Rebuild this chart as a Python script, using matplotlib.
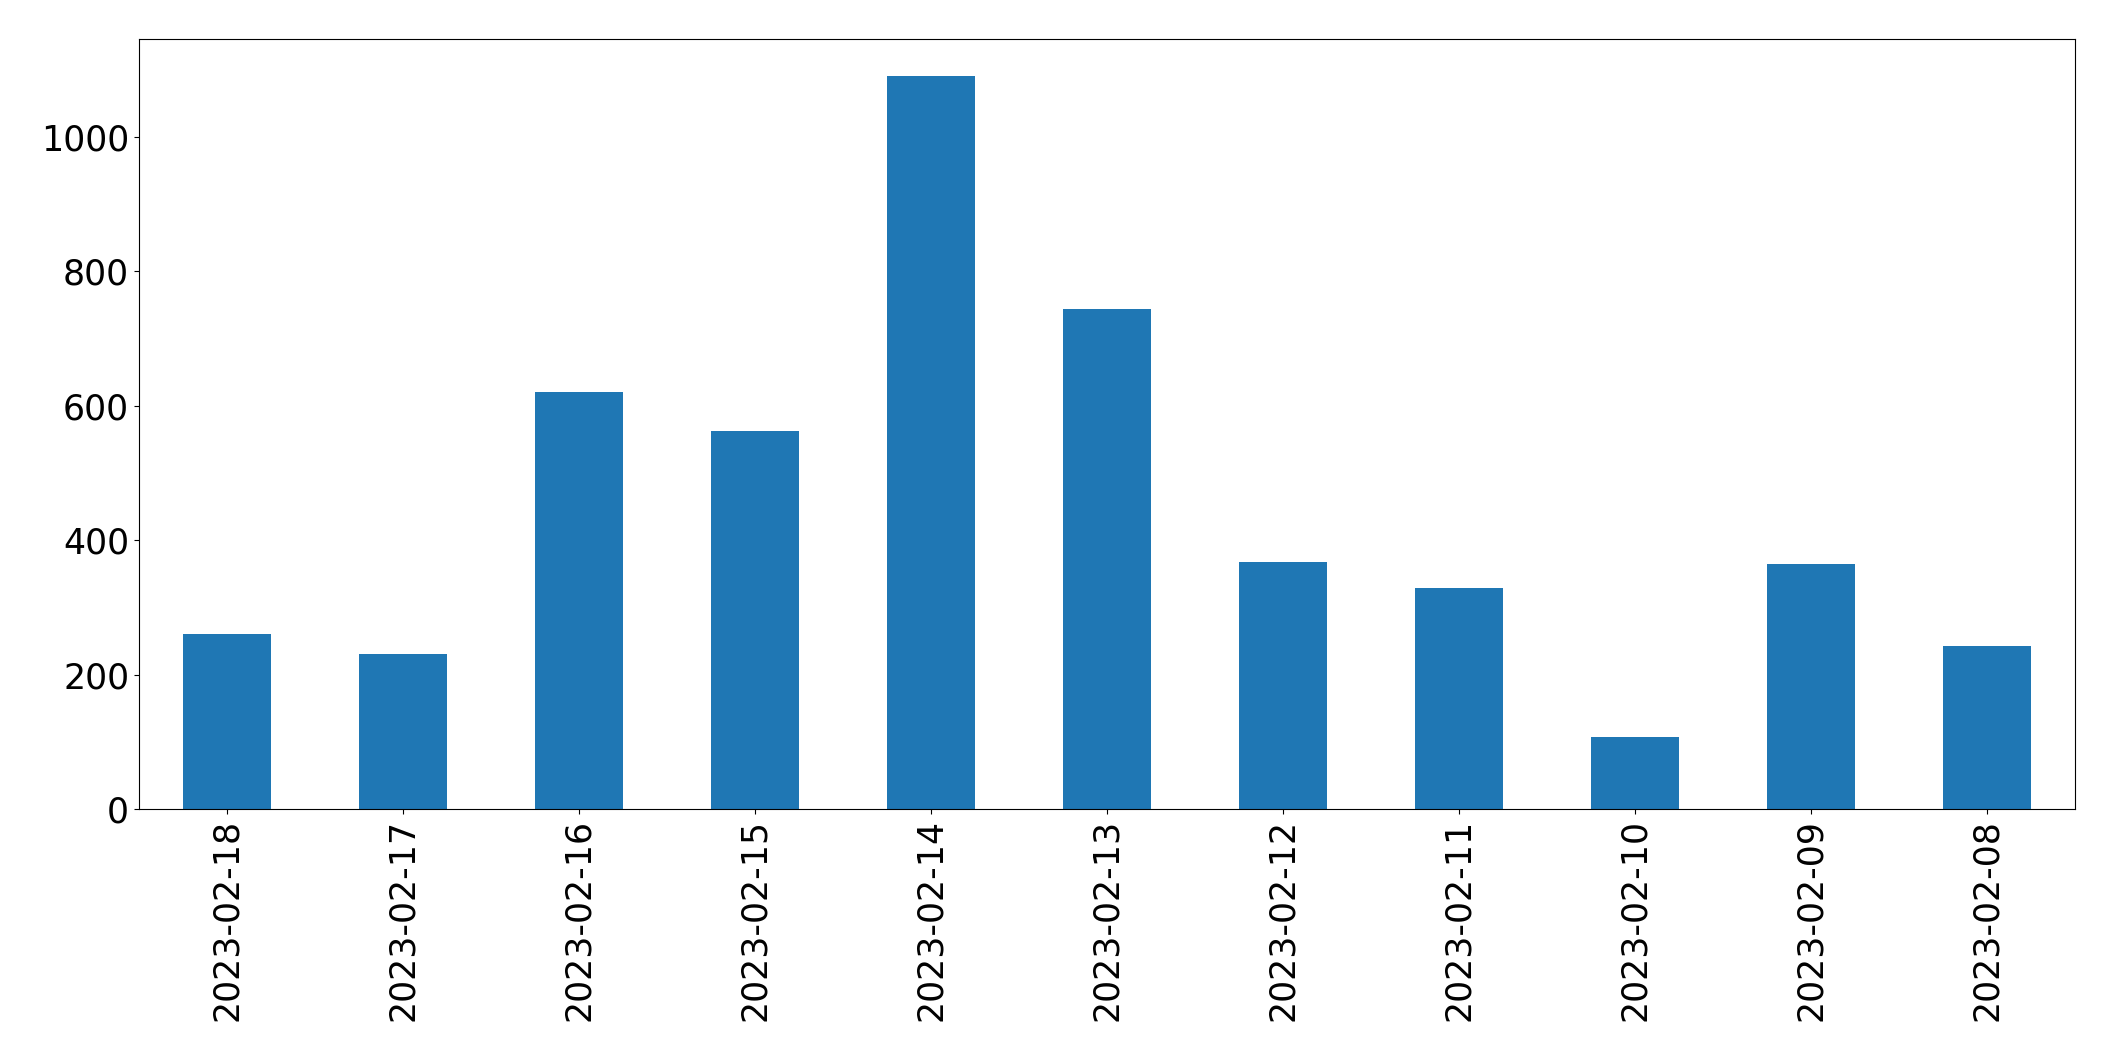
import pandas as pd
import matplotlib.pyplot as plt

# daily counts, newest first (as in the original plot)
dates = ['2023-02-18', '2023-02-17', '2023-02-16', '2023-02-15', '2023-02-14',
         '2023-02-13', '2023-02-12', '2023-02-11', '2023-02-10', '2023-02-09',
         '2023-02-08']
counts = [260, 230, 620, 562, 1090, 743, 368, 328, 107, 365, 243]

counts_s = pd.Series(counts, index=dates)

fig, ax = plt.subplots(1, 1, figsize=(21.15, 10.61), dpi=100)
counts_s.plot(kind='bar', ax=ax, fontsize=25, color='#1f77b4')
plt.subplots_adjust(left=0.0657, right=0.981, top=0.9628, bottom=0.2375)
plt.savefig('out.png', dpi=100)
